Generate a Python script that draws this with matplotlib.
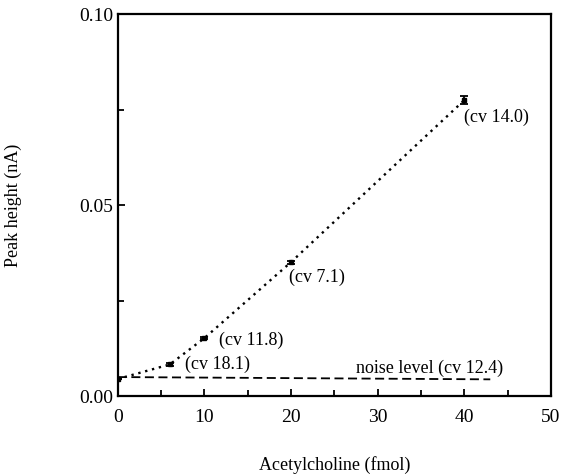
import matplotlib.pyplot as plt
from matplotlib.ticker import MultipleLocator

plt.rcParams['font.family'] = ['Liberation Serif', 'DejaVu Serif']

# calibration points
amount = [0, 6, 10, 20, 40]
height = [0.0045, 0.0083, 0.0152, 0.0351, 0.0775]
err = [0.0, 0.0003, 0.0003, 0.0004, 0.0010]

# noise level line
noise_x = [0, 43]
noise_y = [0.0050, 0.0044]

labels = ['(cv 18.1)', '(cv 11.8)', '(cv 7.1)', '(cv 14.0)', 'noise level (cv 12.4)']
label_x = [7.8, 11.7, 19.8, 40.0, 27.5]
label_y = [0.0083, 0.0146, 0.0312, 0.0731, 0.0072]

fig = plt.figure(figsize=(5.61, 4.75), dpi=100)
ax = fig.add_axes([0.210, 0.166, 0.772, 0.804])

ax.plot(amount, height, color='black', linestyle=(0, (1, 2)), linewidth=1.7)
ax.errorbar(amount, height, yerr=err, fmt='s', color='black', markersize=3,
            capsize=3, elinewidth=1.3, capthick=1.3)
ax.plot(noise_x, noise_y, color='black', linestyle=(0, (5, 2.5)), linewidth=1.3)

for t, x, y in zip(labels, label_x, label_y):
    ax.text(x, y, t, fontsize=13, va='center', ha='left')

ax.set_xlim(0, 50)
ax.set_ylim(0, 0.10)
ax.set_xticks([0, 10, 20, 30, 40, 50])
ax.set_yticks([0.00, 0.05, 0.10])
ax.set_yticklabels(['0.00', '0.05', '0.10'])
ax.xaxis.set_minor_locator(MultipleLocator(5))
ax.yaxis.set_minor_locator(MultipleLocator(0.025))
ax.tick_params(direction='in', which='major', length=5, width=1.3, labelsize=14)
ax.tick_params(direction='in', which='minor', length=4, width=1.3)
ax.tick_params(axis='x', pad=9)
for s in ax.spines.values():
    s.set_linewidth(1.6)

ax.set_xlabel('Acetylcholine (fmol)', fontsize=13, labelpad=22)
ax.set_ylabel('Peak height (nA)', fontsize=13, labelpad=41)

fig.savefig('out.png', dpi=100)
